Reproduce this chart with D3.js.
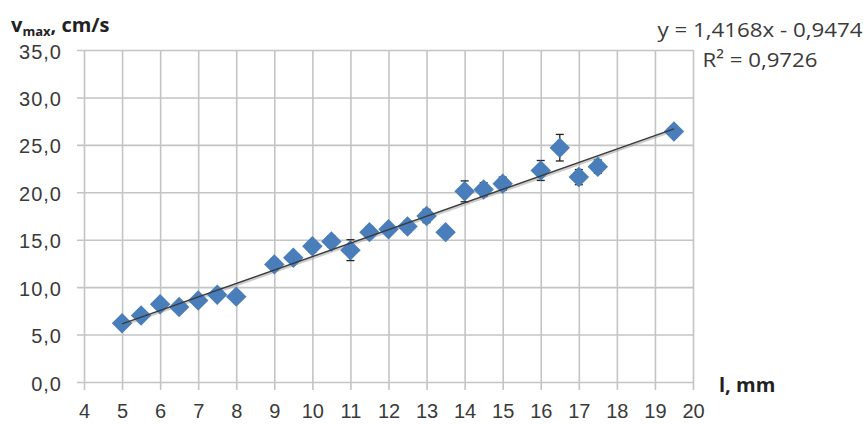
<!DOCTYPE html>
<html>
<head>
<meta charset="utf-8">
<script src="https://cdn.jsdelivr.net/npm/d3@7"></script>
<style>
  body { margin: 0; background: #fff; }
  svg { font-family: "Open Sans", sans-serif; }
</style>
</head>
<body>
<svg id="drawing_region"></svg>
<script>
// l, mm
const lengths = [5, 5.5, 6, 6.5, 7, 7.5, 8, 9, 9.5, 10, 10.5, 11, 11.5, 12, 12.5, 13, 13.5, 14, 14.5, 15, 16, 16.5, 17, 17.5, 19.5];
// v max, cm/s
const speeds = [6.2, 7.0, 8.2, 7.9, 8.6, 9.2, 9.0, 12.4, 13.1, 14.3, 14.8, 13.9, 15.8, 16.1, 16.4, 17.5, 15.8, 20.1, 20.3, 20.9, 22.3, 24.7, 21.6, 22.7, 26.4];
// error (+/-)
const errors = [0.4, 0.4, 0.5, 0.4, 0.5, 0.5, 0.4, 0.6, 0.5, 0.6, 0.6, 1.1, 0.6, 0.5, 0.6, 0.7, 0.5, 1.1, 0.7, 0.7, 1.05, 1.4, 0.8, 0.7, 0.6];

const xTicks = d3.range(4, 21, 1);
const yTicks = [0, 5, 10, 15, 20, 25, 30, 35];
const slope = 1.4168, intercept = -0.9474;
const equationText = "y = 1,4168x - 0,9474";
const r2Text = "R² = 0,9726";

const data = lengths.map((l, i) => ({ x: l, y: speeds[i], e: errors[i] }));

const config = {
    width: 868,
    height: 424,
    margin: { top: 50, right: 175, bottom: 42, left: 84 }
};

const svg = d3.select('#drawing_region')
    .attr('width', config.width)
    .attr('height', config.height);

const inner_width = config.width - config.margin.left - config.margin.right;
const inner_height = config.height - config.margin.top - config.margin.bottom;

const chart = svg.append('g')
    .attr('transform', `translate(${config.margin.left}, ${config.margin.top})`);

const xscale = d3.scaleLinear().domain([4, 20]).range([0, inner_width]);
const yscale = d3.scaleLinear().domain([0, 35]).range([inner_height, 0]);

const comma = d3.formatLocale({ decimal: ",", thousands: " ", grouping: [3], currency: ["", ""] });

const gridColor = '#c4c4c4';
const textColor = '#3a3a3a';

// y axis + horizontal grid
const yaxis = d3.axisLeft(yscale).tickValues(yTicks).tickFormat(comma.format('.1f'));
const yaxis_group = chart.append('g').call(yaxis);
yaxis_group.select('.domain').remove();
yaxis_group.selectAll('.tick line')
    .attr('x1', -7).attr('x2', inner_width)
    .attr('stroke', gridColor).attr('stroke-width', 1.6);
yaxis_group.selectAll('.tick text')
    .attr('x', -22).attr('dy', 8)
    .attr('fill', textColor)
    .attr('font-size', 20)
    .attr('letter-spacing', 1);

// x axis + vertical grid
const xaxis = d3.axisBottom(xscale).tickValues(xTicks).tickFormat(d3.format('d'));
const xaxis_group = chart.append('g')
    .attr('transform', `translate(0, ${inner_height})`)
    .call(xaxis);
xaxis_group.select('.domain').remove();
xaxis_group.selectAll('.tick line')
    .attr('y1', 8).attr('y2', -inner_height)
    .attr('stroke', gridColor).attr('stroke-width', 1.6);
xaxis_group.selectAll('.tick text')
    .attr('y', 36).attr('dy', 0)
    .attr('fill', textColor)
    .attr('font-size', 20);

// trend line
const line = d3.line().x(d => xscale(d)).y(d => yscale(slope * d + intercept));
const trendX = [d3.min(lengths), d3.max(lengths)];
chart.append('path')
    .attr('d', line(trendX))
    .attr('fill', 'none')
    .attr('stroke', '#9a9a9a')
    .attr('stroke-width', 3)
    .attr('opacity', 0.5)
    .attr('transform', 'translate(1,1)');

// error bars
const eb = chart.append('g').attr('stroke', '#222').attr('stroke-width', 1.3);
eb.selectAll('line.v').data(data).enter().append('line')
    .attr('x1', d => xscale(d.x)).attr('x2', d => xscale(d.x))
    .attr('y1', d => yscale(d.y - d.e)).attr('y2', d => yscale(d.y + d.e));
eb.selectAll('line.t').data(data).enter().append('line')
    .attr('x1', d => xscale(d.x) - 4).attr('x2', d => xscale(d.x) + 4)
    .attr('y1', d => yscale(d.y + d.e)).attr('y2', d => yscale(d.y + d.e));
eb.selectAll('line.b').data(data).enter().append('line')
    .attr('x1', d => xscale(d.x) - 4).attr('x2', d => xscale(d.x) + 4)
    .attr('y1', d => yscale(d.y - d.e)).attr('y2', d => yscale(d.y - d.e));

// markers (diamonds)
const diamond = d3.symbol().type(d3.symbolSquare).size(210);
chart.selectAll('path.pt').data(data).enter().append('path')
    .attr('class', 'pt')
    .attr('d', diamond)
    .attr('transform', d => `translate(${xscale(d.x)}, ${yscale(d.y)}) rotate(45)`)
    .attr('fill', '#4a7ebb');

chart.append('path')
    .attr('d', line(trendX))
    .attr('fill', 'none')
    .attr('stroke', '#3a3a3a')
    .attr('stroke-width', 1.4);

// labels
const ytitle = svg.append('text')
    .attr('x', 11).attr('y', 32)
    .attr('font-weight', 'bold')
    .attr('font-size', 20)
    .attr('fill', '#222');
ytitle.append('tspan').text('v');
ytitle.append('tspan').attr('font-size', 13).attr('dy', 4).text('max');
ytitle.append('tspan').attr('dy', -4).text(', cm/s');

svg.append('text')
    .attr('x', 719).attr('y', 392)
    .attr('font-weight', 'bold')
    .attr('font-size', 20)
    .attr('fill', '#222')
    .text('l, mm');

svg.append('text')
    .attr('x', 760).attr('y', 37)
    .attr('text-anchor', 'middle')
    .attr('font-size', 20)
    .attr('fill', textColor)
    .attr('textLength', 205)
    .attr('lengthAdjust', 'spacingAndGlyphs')
    .text(equationText);

svg.append('text')
    .attr('x', 760).attr('y', 67)
    .attr('text-anchor', 'middle')
    .attr('font-size', 20)
    .attr('fill', textColor)
    .attr('textLength', 115)
    .attr('lengthAdjust', 'spacingAndGlyphs')
    .text(r2Text);
</script>
</body>
</html>
